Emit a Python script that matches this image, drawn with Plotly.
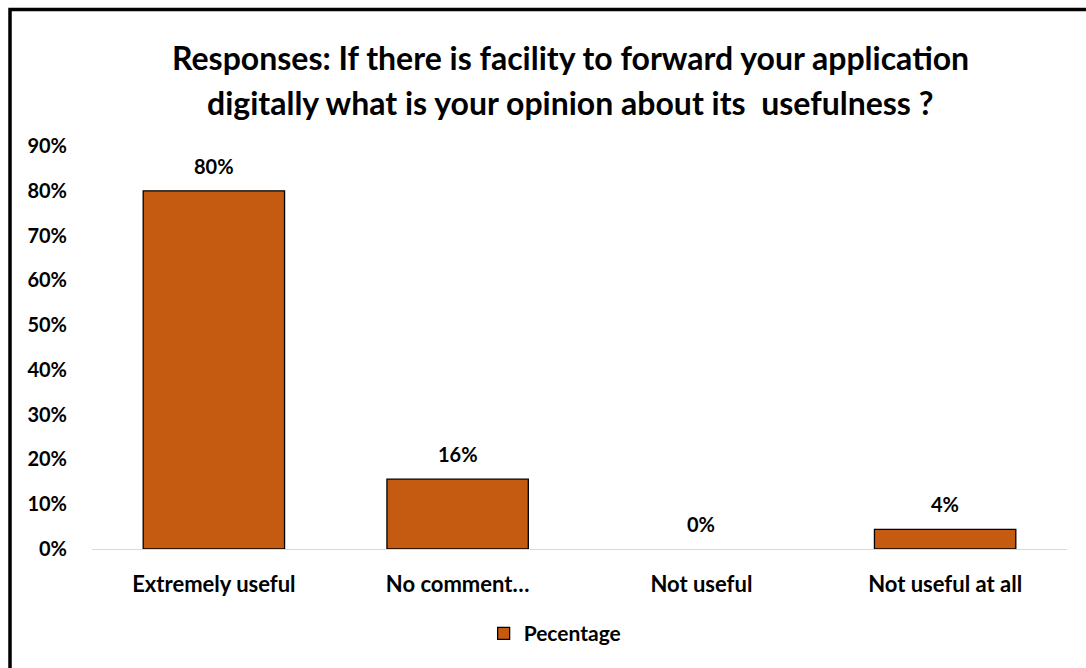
import plotly.graph_objects as go

# Survey responses on the usefulness of forwarding applications digitally
categories = ["Extremely useful", "No comment…", "Not useful", "Not useful at all"]
share = [0.80, 0.156, 0.0, 0.044]
series_name = "Pecentage"
y_ticks = [0, 0.1, 0.2, 0.3, 0.4, 0.5, 0.6, 0.7, 0.8, 0.9]
y_tick_text = ["0%", "10%", "20%", "30%", "40%", "50%", "60%", "70%", "80%", "90%"]
title_lines = [
    "Responses: If there is facility to forward your application",
    "digitally what is your opinion about its  usefulness ?",
]

BAR = "#C55A11"
FONT = "Lato, 'Open Sans', sans-serif"

# no outline on empty bars
outline = [1.3 if v > 0 else 0 for v in share]

fig = go.Figure()
fig.add_trace(go.Bar(
    x=categories,
    y=share,
    name=series_name,
    marker=dict(color=BAR, line=dict(color="black", width=outline)),
    showlegend=True,
))

# value labels above each bar
for c, v in zip(categories, share):
    fig.add_annotation(
        x=c, y=v, text=f"<b>{v:.0%}</b>", showarrow=False,
        yanchor="bottom", yshift=11,
        font=dict(family=FONT, size=20, color="#000000"),
    )

# two-line chart title
for line, ypos in zip(title_lines, [1.2208, 1.1067]):
    fig.add_annotation(
        xref="paper", yref="paper", x=0.4905, y=ypos,
        xanchor="center", yanchor="middle", showarrow=False,
        text=f"<b>{line}</b>",
        font=dict(family=FONT, size=32, color="#000000"),
    )

# frame around the chart (left and top edges)
fig.add_shape(
    type="path", xref="paper", yref="paper",
    path="M -0.0841,-0.5 L -0.0841,1.3387 L 1.2,1.3387",
    line=dict(color="black", width=3.5),
)

fig.update_layout(
    width=1086, height=668,
    margin=dict(l=92, r=19, t=146, b=119),
    paper_bgcolor="white", plot_bgcolor="white",
    font=dict(family=FONT, size=20, color="#000000"),
    bargap=0.42,
    xaxis=dict(
        showline=True, linecolor="#d9d9d9", linewidth=1,
        showgrid=False, ticks="",
        tickfont=dict(family=FONT, size=22, color="#000000", weight="bold"),
        ticklabelstandoff=16,
    ),
    yaxis=dict(
        range=[0, 0.9], tickvals=y_ticks, ticktext=y_tick_text,
        showgrid=False, zeroline=False, showline=False, ticks="",
        tickfont=dict(family=FONT, size=20, color="#000000", weight="bold"),
        ticklabelstandoff=24,
    ),
    legend=dict(
        orientation="h", x=0.475, xanchor="center", y=-0.21, yanchor="middle",
        font=dict(family=FONT, size=21, color="#000000", weight="bold"),
        itemwidth=30,
    ),
)

fig.write_html("out.html")
